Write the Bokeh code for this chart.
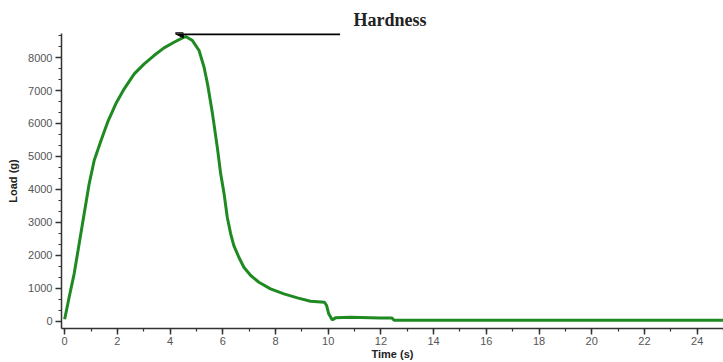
from bokeh.plotting import figure
from bokeh.models import Range1d, SingleIntervalTicker, Arrow, NormalHead
from bokeh.embed import file_html
from bokeh.resources import INLINE

# Time (s) and Load (g)
time_s = [0.0, 0.17, 0.36, 0.55, 0.74, 0.93, 1.12, 1.38, 1.63, 1.94, 2.26, 2.64, 3.02,
          3.39, 3.77, 4.15, 4.47, 4.59, 4.85, 5.10, 5.29, 5.42, 5.61, 5.80, 5.92, 6.05,
          6.17, 6.30, 6.42, 6.61, 6.80, 7.06, 7.37, 7.81, 8.32, 8.83, 9.33, 9.86, 9.94,
          10.02, 10.15, 10.28, 10.84, 11.98, 12.42, 12.50, 14.0, 16.0, 18.0, 20.0, 22.0,
          24.0, 25.0]
load_g = [60, 728, 1438, 2348, 3258, 4169, 4876, 5482, 6038, 6596, 7051, 7506, 7810,
          8061, 8295, 8465, 8598, 8638, 8516, 8213, 7706, 7203, 6292, 5230, 4472, 3865,
          3155, 2652, 2297, 1942, 1638, 1387, 1183, 983, 831, 710, 607, 577, 476,
          225, 42, 103, 121, 100, 100, 30, 30, 30, 30, 30, 30, 30, 30]

y_ticks_interval = 1000
x_ticks_interval = 2
annotation_text = "Hardness"
x_title = "Time (s)"
y_title = "Load (g)"

p = figure(width=723, height=362, output_backend="svg", toolbar_location=None,
           x_range=Range1d(-0.12, 25.0), y_range=Range1d(-220, 8730),
           min_border_left=61, min_border_right=0, min_border_top=33, min_border_bottom=0,
           title=annotation_text)
p.title.align = "left"
p.title.offset = 292
p.title.standoff = 7
p.title.text_font = "Liberation Serif"
p.title.text_font_style = "bold"
p.title.text_font_size = "18px"
p.title.text_color = "#222222"

p.outline_line_color = None
p.xgrid.grid_line_color = None
p.ygrid.grid_line_color = None
p.background_fill_color = "white"
p.border_fill_color = "white"

p.line(time_s, load_g, line_color="#1f8a22", line_width=3)

for ax in (p.xaxis[0], p.yaxis[0]):
    ax.axis_line_color = "#333333"
    ax.axis_line_width = 1.5
    ax.major_tick_line_color = "#333333"
    ax.minor_tick_line_color = "#333333"
    ax.major_tick_line_width = 1.5
    ax.minor_tick_line_width = 1.2
    ax.major_tick_in = 0
    ax.minor_tick_in = 0
    ax.major_tick_out = 6
    ax.minor_tick_out = 3
    ax.major_label_text_font = "Liberation Sans"
    ax.major_label_text_font_size = "11px"
    ax.major_label_text_color = "#555555"
    ax.axis_label_text_font = "Liberation Sans"
    ax.axis_label_text_font_size = "11px"
    ax.axis_label_text_font_style = "bold"
    ax.axis_label_text_color = "#222222"

p.xaxis.ticker = SingleIntervalTicker(interval=x_ticks_interval, num_minor_ticks=2)
p.yaxis.ticker = SingleIntervalTicker(interval=y_ticks_interval, num_minor_ticks=3)
p.xaxis.axis_label = x_title
p.yaxis.axis_label = y_title
p.xaxis.major_label_standoff = 2
p.xaxis.axis_label_standoff = 0
p.yaxis.major_label_standoff = 3
p.yaxis.axis_label_standoff = 6

p.add_layout(Arrow(end=NormalHead(size=8, fill_color="black", line_color="black"),
                   x_start=10.45, y_start=8720, x_end=4.2, y_end=8720,
                   line_color="black", line_width=3))

open("out.html", "w").write(file_html(p, INLINE))
